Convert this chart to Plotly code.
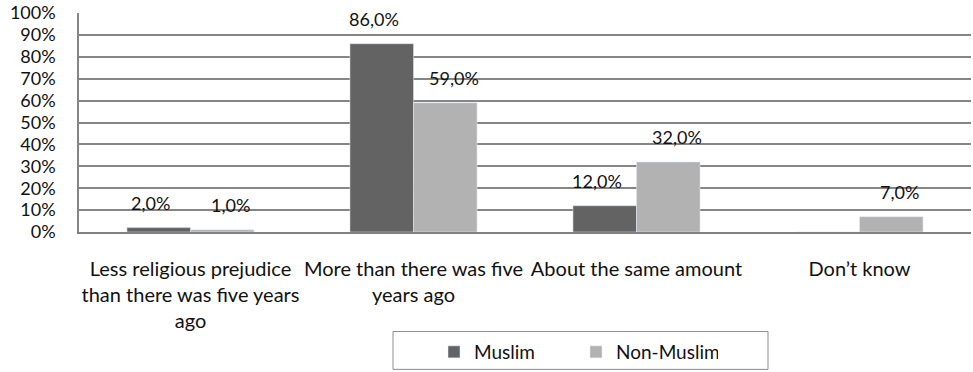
import plotly.graph_objects as go

categories = [
    "Less religious prejudice<br>than there was five years<br>ago",
    "More than there was five<br>years ago",
    "About the same amount",
    "Don\u2019t know",
]
muslim = [2.0, 86.0, 12.0, 0.0]
non_muslim = [1.0, 59.0, 32.0, 7.0]
tick_vals = list(range(0, 101, 10))
tick_text = [f"{v}%" for v in tick_vals]

FONT = dict(family="Lato, Calibri, sans-serif", size=18, color="#111111")
CAT_FONT = dict(FONT, size=20)
LEG_FONT = dict(FONT, size=19)
DARK = "#636363"
LIGHT = "#b2b2b2"


def pct(v):
    return f"{v:.1f}".replace(".", ",") + "%"


fig = go.Figure()
fig.add_trace(go.Bar(name="Muslim", x=categories, y=muslim, marker_color=DARK))
fig.add_trace(go.Bar(name="Non-Muslim", x=categories, y=non_muslim, marker_color=LIGHT))

# value labels above each bar (the empty Muslim "Don't know" bar has none)
annotations = []
for cat, v in zip(categories, muslim):
    if v > 0:
        annotations.append(dict(x=cat, y=v, text=pct(v), xshift=-40, yshift=12,
                                yanchor="bottom", showarrow=False, font=FONT))
for cat, v in zip(categories, non_muslim):
    if v > 0:
        annotations.append(dict(x=cat, y=v, text=pct(v), xshift=40, yshift=12,
                                yanchor="bottom", showarrow=False, font=FONT))

fig.update_layout(
    width=973,
    height=372,
    margin=dict(l=79, r=2, t=13, b=139),
    paper_bgcolor="white",
    plot_bgcolor="white",
    font=FONT,
    barmode="group",
    bargap=0.43,
    bargroupgap=0,
    annotations=annotations,
    showlegend=True,
    legend=dict(
        orientation="h",
        x=(434 - 79) / 892,
        xanchor="left",
        y=(233 - 352) / 220,
        yanchor="middle",
        entrywidth=97,
        entrywidthmode="pixels",
        font=LEG_FONT,
        bgcolor="rgba(0,0,0,0)",
    ),
    shapes=[
        dict(type="rect", xref="paper", yref="paper",
             x0=(393 - 79) / 892, x1=(768 - 79) / 892,
             y0=(233 - 333) / 220, y1=(233 - 371) / 220,
             line=dict(color="#8c8c8c", width=1), fillcolor="rgba(0,0,0,0)",
             layer="below"),
    ],
)

fig.update_yaxes(
    range=[0, 100],
    tickvals=tick_vals,
    ticktext=tick_text,
    showgrid=True,
    gridcolor="#868686",
    gridwidth=1.5,
    showline=True,
    linecolor="#868686",
    linewidth=1.5,
    ticks="",
    ticklabelstandoff=18,
    zeroline=False,
    tickfont=FONT,
)
fig.update_xaxes(
    showline=True,
    linecolor="#808080",
    linewidth=2,
    ticks="",
    ticklabelstandoff=18,
    tickfont=CAT_FONT,
)

fig.write_html("out.html")
